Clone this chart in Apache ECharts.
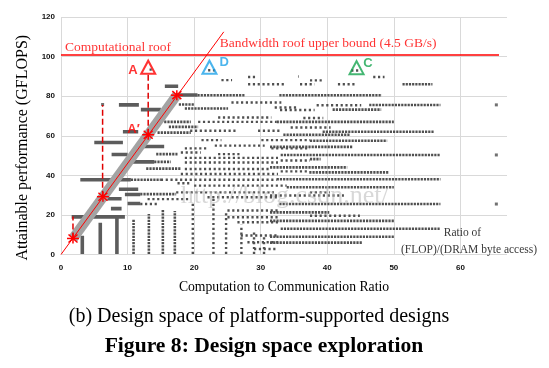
<!DOCTYPE html>
<html><head><meta charset="utf-8">
<script src="https://cdn.jsdelivr.net/npm/echarts@6/dist/echarts.min.js"></script>
<style>html,body{margin:0;padding:0;background:#fff}#c{width:549px;height:368px}</style>
</head><body><div id="c"></div>
<script>
// ---- data ----
const xTicks = [0, 10, 20, 30, 40, 50, 60];
const yTicks = [0, 20, 40, 60, 80, 100, 120];

// runs of design points: [x1, y1, x2, y2]
const solidRuns = [
 [15.6,85.0,17.6,85.0],[17.3,80.6,20.5,80.6],[8.7,75.6,11.7,75.6],[12.0,73.2,15.0,73.2],
 [9.3,62.0,11.6,62.0],[5.0,56.6,9.3,56.6],[12.3,54.6,15.5,54.6],[7.6,50.5,10.0,50.5],
 [10.6,46.8,14.0,46.8],[2.9,37.8,10.5,37.8],[8.7,33.0,11.6,33.0],[9.6,30.3,11.9,30.3],
 [5.5,28.2,9.1,28.2],[10.0,25.8,11.9,25.8],[7.5,23.2,9.1,23.2],[1.6,19.0,9.6,19.0],
 [3.2,0.3,3.2,9.5],[5.9,0.3,5.9,16.0],[8.4,0.3,8.4,18.5]
];
const denseRuns = [
 [39.3,62.0,56.1,62.0],[33.0,50.3,57.0,50.3],[32.4,38.0,57.0,38.0],[32.8,25.5,57.0,25.5],
 [33.0,13.0,57.0,13.0],
 [51.3,86.0,55.8,86.0],[20.5,80.5,27.6,80.5],[32.8,80.5,48.2,80.5],[17.7,75.8,20.1,75.8],
 [46.3,75.5,57.0,75.5],[18.6,73.8,25.1,73.8],[40.8,73.2,48.1,73.2],[15.5,67.0,19.5,67.0],
 [32.4,67.0,50.0,67.0],[16.2,64.5,20.6,64.5],[14.5,61.6,19.5,61.6],[33.4,60.5,43.4,60.5],
 [37.4,57.5,49.0,57.5],[31.4,54.4,43.8,54.4],[14.3,50.7,17.5,50.7],[14.0,46.8,16.5,46.8],
 [31.4,44.0,43.0,44.0],[12.8,43.4,18.0,43.4],[37.3,41.5,49.3,41.5],[10.5,37.8,15.0,37.8],
 [33.9,34.0,50.0,34.0],[11.9,30.5,17.3,30.5],[31.4,21.3,40.3,21.3],[31.4,17.0,50.0,17.0],
 [31.4,9.0,50.0,9.0],[31.4,6.0,45.3,6.0],[37.4,48.2,39.0,48.2],
 [10.9,0.3,10.9,18.0],[13.2,0.3,13.2,20.5],[15.3,0.3,15.3,23.0],[17.1,0.3,17.1,22.0]
];
const sparseRuns = [
 [13.3,93.4,14.0,93.4],[22.1,93.1,23.2,93.1],[43.6,93.0,44.7,93.0],[28.1,89.7,29.2,89.7],
 [35.6,89.9,35.7,89.9],[46.9,89.7,48.6,89.7],[24.1,88.1,25.7,88.1],[37.4,88.0,39.4,88.0],
 [28.1,86.0,33.6,86.0],[35.9,86.0,38.1,86.0],[41.6,86.0,44.1,86.0],[25.6,76.8,33.1,76.8],
 [38.4,75.4,45.1,75.4],[32.1,74.3,35.6,74.3],[32.9,73.0,38.1,73.0],[23.6,69.2,31.6,69.2],
 [36.4,69.0,39.4,69.0],[20.6,67.0,32.4,67.0],[34.5,64.2,40.5,64.2],[19.4,62.5,26.6,62.5],
 [29.6,62.5,33.1,62.5],[21.1,57.8,24.1,57.8],[30.1,57.8,37.4,57.8],[23.1,55.0,30.6,55.0],
 [18.6,53.6,22.1,53.6],[31.6,53.6,37.4,53.6],[18.0,51.5,21.0,51.5],[23.6,50.7,27.1,50.7],
 [18.6,48.8,32.6,48.8],[18.6,46.5,32.6,46.5],[33.0,47.5,37.4,47.5],[18.6,43.2,31.4,43.2],
 [33.0,42.0,37.3,42.0],[18.0,40.7,32.6,40.7],[15.0,37.8,32.4,37.8],[17.5,36.0,19.5,36.0],
 [20.0,34.8,33.9,34.8],[17.3,31.4,32.0,31.4],[37.4,31.4,40.4,31.4],[13.0,28.0,19.5,28.0],
 [22.0,28.9,32.6,28.9],[31.4,29.8,42.5,29.8],[11.9,25.5,14.5,25.5],[25.0,22.2,32.6,22.2],
 [25.0,18.8,32.6,18.8],[37.4,19.6,44.9,19.6],[26.5,16.3,32.6,16.3],[27.0,9.6,32.6,9.6],
 [28.0,6.2,32.6,6.2],[29.0,2.8,32.6,2.8],
 [19.8,0.3,19.8,26.5],[22.9,0.3,22.9,28.0],[24.8,0.3,24.8,22.0],[27.1,0.3,27.1,15.0],
 [29.0,0.3,29.0,12.0],[30.5,0.3,30.5,10.0]
];
const singleDots = [[65.4,75.6],[65.4,50.3],[65.4,25.5],[6.25,75.8]];

// roofline annotations
const computeRoof = [[0,100.8],[65.8,100.8]];
const bandwidthRoof = [[0,0],[24.45,112.5]];
const feasibleBand = [[1.8,8.1],[17.4,80.5]];
const stars = [[1.8,8.1],[6.3,29.2],[13.1,60.5],[17.4,80.5]];
const dropLines = [[1.8,8.1,1.8,19.2],[6.25,29.2,6.25,75.6],[13.1,60.5,13.1,91.3]];
const triA = [13.1,94.6], triD = [22.3,94.6], triC = [44.4,94.4];
const labelA = [10.8,93.2], labelA2 = [10.9,63.4], labelD = [24.5,96.8], labelC = [46.1,96.6];
const roofText = [0.6,104.4], bwText = [23.85,106.6];
const ratioText1 = [60.3,10.9], ratioText2 = [61.3,2.3];
const watermarkPos = [33.6,29.5];

// ---- chart ----
const serif = 'Liberation Serif';
function segSeries(data, style, z) {
  return {
    type: 'custom', data, z, clip: true, silent: true,
    encode: { x: [0, 2], y: [1, 3] },
    renderItem: (p, api) => {
      const a = api.coord([api.value(0), api.value(1)]);
      const b = api.coord([api.value(2), api.value(3)]);
      return { type: 'line', shape: { x1: a[0], y1: a[1], x2: b[0], y2: b[1] },
               style: Object.assign({ fill: null }, style) };
    }
  };
}
function textSeries(pos, text, st) {
  return { type: 'scatter', data: [pos], symbolSize: 0, silent: true, z: 20,
    label: Object.assign({ show: true, position: 'inside', formatter: text }, st) };
}
const chart = echarts.init(document.getElementById('c'), null, { renderer: 'canvas' });
chart.setOption({
  animation: false,
  backgroundColor: '#fff',
  grid: { left: 61, top: 17, width: 446, height: 237.5 },
  xAxis: {
    type: 'value', min: 0, max: 67, interval: 10,
    axisLine: { show: false }, axisTick: { show: false },
    splitLine: { show: true, showMaxLine: false, lineStyle: { color: '#d9d9d9', width: 1 } },
    axisLabel: { margin: 9, showMaxLabel: false, color: '#111', fontFamily: 'Liberation Sans', fontWeight: 'bold', fontSize: 8,
      formatter: v => xTicks.includes(v) ? String(v) : '' },
    name: 'Computation to Communication Ratio', nameLocation: 'middle', nameGap: 26,
    nameTextStyle: { fontFamily: serif, fontSize: 13.7, color: '#000' }
  },
  yAxis: {
    type: 'value', min: 0, max: 120, interval: 20,
    axisLine: { show: false }, axisTick: { show: false },
    splitLine: { show: true, lineStyle: { color: '#d9d9d9', width: 1 } },
    axisLabel: { margin: 6, color: '#111', fontFamily: 'Liberation Sans', fontWeight: 'bold', fontSize: 8,
      formatter: v => yTicks.includes(v) ? String(v) : '' },
    name: 'Attainable performance (GFLOPS)', nameLocation: 'middle', nameGap: 26, nameRotate: 90,
    nameTextStyle: { fontFamily: serif, fontSize: 16, color: '#000', padding: [0, 24, 0, 0] }
  },
  series: [
    segSeries(sparseRuns, { stroke: '#505050', lineWidth: 2.4, lineDash: [2.2, 2.6] }, 2),
    segSeries(denseRuns, { stroke: '#505050', lineWidth: 2.6, lineDash: [2.2, 1.0] }, 3),
    segSeries(solidRuns, { stroke: '#5c5c5c', lineWidth: 3.6 }, 4),
    { type: 'scatter', data: singleDots, symbol: 'rect', symbolSize: 3, itemStyle: { color: '#4d4d4d' }, z: 4, silent: true },
    { type: 'line', data: feasibleBand, showSymbol: false, z: 6, silent: true,
      lineStyle: { color: '#a3a3a3', width: 10, cap: 'butt' } },
    { type: 'line', data: bandwidthRoof, showSymbol: false, z: 7, silent: true,
      lineStyle: { color: '#ff0000', width: 1 } },
    { type: 'line', data: computeRoof, showSymbol: false, z: 7, silent: true,
      lineStyle: { color: '#ff0000', width: 1.5 } },
    segSeries(dropLines, { stroke: '#e00000', lineWidth: 1.5, lineDash: [6, 3] }, 7),
    { type: 'custom', data: stars, z: 8, silent: true, clip: false,
      renderItem: (p, api) => {
        const c = api.coord([api.value(0), api.value(1)]);
        const L = (x1, y1, x2, y2) => ({ type: 'line', shape: { x1: c[0]+x1, y1: c[1]+y1, x2: c[0]+x2, y2: c[1]+y2 },
          style: { stroke: '#ff0000', lineWidth: 1.5 } });
        return { type: 'group', children: [L(-6,0,6,0), L(0,-5,0,5), L(-4.5,-4,4.5,4), L(-4.5,4,4.5,-4)] };
      } },
    { type: 'scatter', data: [triA], symbol: 'triangle', symbolSize: [14, 13], z: 9, silent: true,
      itemStyle: { color: 'rgba(0,0,0,0)', borderColor: '#ff0000', borderWidth: 2 } },
    { type: 'scatter', data: [triD], symbol: 'triangle', symbolSize: [14, 13], z: 9, silent: true,
      itemStyle: { color: 'rgba(0,0,0,0)', borderColor: '#1fa3e8', borderWidth: 2 } },
    { type: 'scatter', data: [triC], symbol: 'triangle', symbolSize: [14, 13], z: 9, silent: true,
      itemStyle: { color: 'rgba(0,0,0,0)', borderColor: '#16a550', borderWidth: 2 } },
    textSeries(labelA, 'A', { color: '#ff0000', fontFamily: 'Liberation Sans', fontWeight: 'bold', fontSize: 13 }),
    textSeries(labelA2, 'A\u2032', { color: '#ff0000', fontFamily: 'Liberation Sans', fontWeight: 'bold', fontSize: 13 }),
    textSeries(labelD, 'D', { color: '#1fa3e8', fontFamily: 'Liberation Sans', fontWeight: 'bold', fontSize: 13 }),
    textSeries(labelC, 'C', { color: '#16a550', fontFamily: 'Liberation Sans', fontWeight: 'bold', fontSize: 13 }),
    textSeries(roofText, 'Computational roof', { color: '#ff0000', fontFamily: serif, fontSize: 13.5, align: 'left' }),
    textSeries(bwText, 'Bandwidth roof upper bound (4.5 GB/s)', { color: '#ff0000', fontFamily: serif, fontSize: 13.5, align: 'left' }),
    textSeries(ratioText1, 'Ratio of', { color: '#000', fontFamily: serif, fontSize: 11.5 }),
    textSeries(ratioText2, '(FLOP)/(DRAM byte access)', { color: '#000', fontFamily: serif, fontSize: 11.5 }),
    textSeries(watermarkPos, 'http://blog.csdn.net/', { color: 'rgba(185,185,185,0.7)', fontFamily: serif, fontSize: 26 })
  ],
  graphic: [
    { type: 'text', x: 259, y: 317, style: { text: '(b) Design space of platform-supported designs', align: 'center', verticalAlign: 'middle',
      font: '20px "Liberation Serif"', fill: '#000' } },
    { type: 'text', x: 264, y: 346, style: { text: 'Figure 8: Design space exploration', align: 'center', verticalAlign: 'middle',
      font: 'bold 21.6px "Liberation Serif"', fill: '#000' } }
  ]
});
</script></body></html>
